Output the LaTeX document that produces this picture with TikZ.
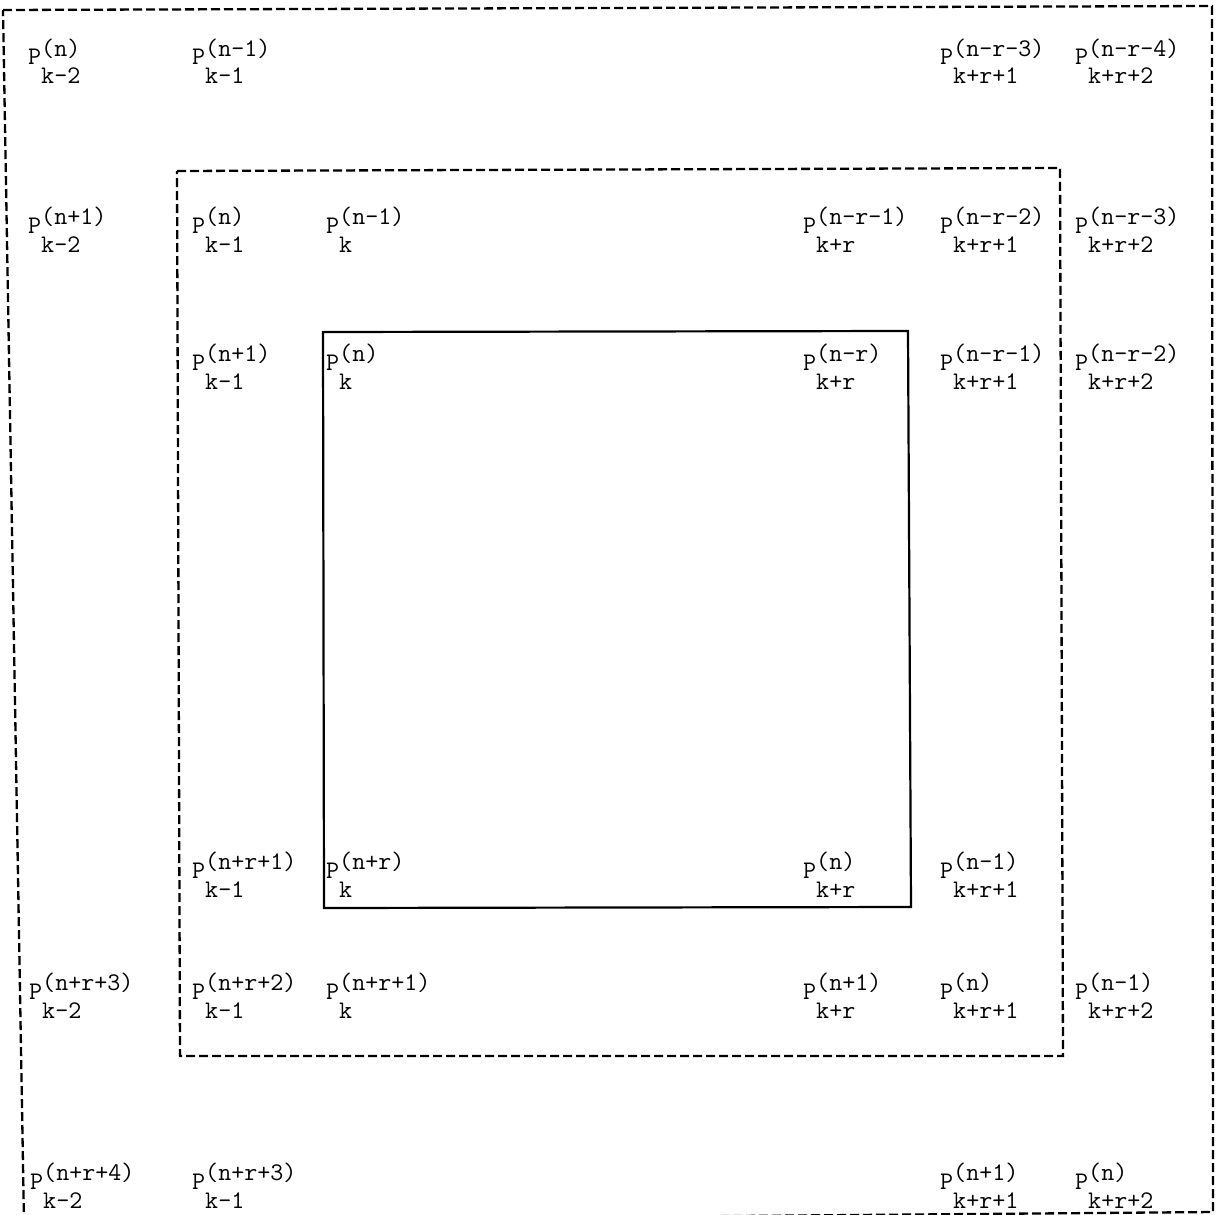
\documentclass[tikz,border=0pt]{standalone}
\newcommand{\plab}[2]{P\rlap{\raisebox{9pt}{#1}}\raisebox{-19pt}{#2}}
\begin{document}
\begin{tikzpicture}[x=1pt,y=-1pt,
  lab/.style={anchor=base west,inner sep=0pt,font=\ttfamily\fontsize{25.3}{30}\selectfont},
  dashbox/.style={line width=2.3pt,dash pattern=on 9pt off 4pt},
  solidbox/.style={line width=2.2pt}]
\useasboundingbox[fill=white] (0,0) rectangle (1218,1215);
% boxes
\draw[dashbox] (3,10) -- (1212,6) -- (1213,1212) -- (24,1222) -- cycle;
\draw[dashbox] (177,171) -- (1060,168) -- (1063,1056) -- (180,1056) -- cycle;
\draw[solidbox] (323,332) -- (908,331) -- (911,907) -- (324,908) -- cycle;
% row 1
\node[lab] (a1) at (28,65) {\plab{(n)}{k-2}};
\node[lab] (a2) at (192,65) {\plab{(n-1)}{k-1}};
\node[lab] (a5) at (940,65) {\plab{(n-r-3)}{k+r+1}};
\node[lab] (a6) at (1075,65) {\plab{(n-r-4)}{k+r+2}};
% row 2
\node[lab] (b1) at (28,233) {\plab{(n+1)}{k-2}};
\node[lab] (b2) at (192,233) {\plab{(n)}{k-1}};
\node[lab] (b3) at (326,233) {\plab{(n-1)}{k}};
\node[lab] (b4) at (803,233) {\plab{(n-r-1)}{k+r}};
\node[lab] (b5) at (940,233) {\plab{(n-r-2)}{k+r+1}};
\node[lab] (b6) at (1075,233) {\plab{(n-r-3)}{k+r+2}};
% row 3
\node[lab] (c2) at (192,370) {\plab{(n+1)}{k-1}};
\node[lab] (c3) at (326,370) {\plab{(n)}{k}};
\node[lab] (c4) at (803,370) {\plab{(n-r)}{k+r}};
\node[lab] (c5) at (940,370) {\plab{(n-r-1)}{k+r+1}};
\node[lab] (c6) at (1075,370) {\plab{(n-r-2)}{k+r+2}};
% row 4
\node[lab] (d2) at (192,878) {\plab{(n+r+1)}{k-1}};
\node[lab] (d3) at (326,878) {\plab{(n+r)}{k}};
\node[lab] (d4) at (803,878) {\plab{(n)}{k+r}};
\node[lab] (d5) at (940,878) {\plab{(n-1)}{k+r+1}};
% row 5
\node[lab] (e1) at (29,999) {\plab{(n+r+3)}{k-2}};
\node[lab] (e2) at (192,999) {\plab{(n+r+2)}{k-1}};
\node[lab] (e3) at (326,999) {\plab{(n+r+1)}{k}};
\node[lab] (e4) at (803,999) {\plab{(n+1)}{k+r}};
\node[lab] (e5) at (940,999) {\plab{(n)}{k+r+1}};
\node[lab] (e6) at (1075,999) {\plab{(n-1)}{k+r+2}};
% row 6
\node[lab] (f1) at (30,1189) {\plab{(n+r+4)}{k-2}};
\node[lab] (f2) at (192,1189) {\plab{(n+r+3)}{k-1}};
\node[lab] (f5) at (940,1189) {\plab{(n+1)}{k+r+1}};
\node[lab] (f6) at (1075,1189) {\plab{(n)}{k+r+2}};
\end{tikzpicture}
\end{document}
